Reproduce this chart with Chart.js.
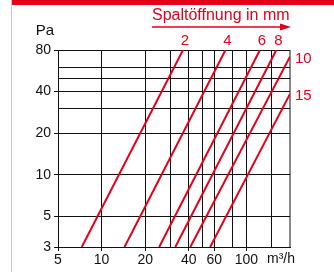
<!DOCTYPE html>
<html>
<head>
<meta charset="utf-8">
<script src="https://cdn.jsdelivr.net/npm/chart.js@4"></script>
<style>
  html, body { margin: 0; padding: 0; background: #fff; }
  canvas { display: block; }
</style>
</head>
<body>
<canvas id="chart" width="334" height="272"></canvas>
<script>
// gap width (mm) per curve, flow (m³/h) and pressure (Pa) at both ends
const gaps = ['2', '4', '6', '8', '10', '15'];
const flowStart = [7.3, 14.4, 25, 32.3, 41, 56.2];
const paStart = [3, 3, 3, 3, 3, 3];
const flowEnd = [36.5, 71.7, 124, 161, 200, 200];
const paEnd = [80, 80, 80, 80, 71.6, 38.5];

// grid values and which of them carry a label
const xGrid = [5, 10, 20, 30, 40, 50, 60, 80, 100, 150, 200];
const xLabels = [5, 10, 20, 40, 60, 100];
const yGrid = [3, 5, 10, 20, 30, 40, 50, 60, 80];
const yLabels = [3, 5, 10, 20, 40, 80];

const RED = '#e2001a';
const FONT = '"Liberation Sans", Arial, sans-serif';

const datasets = gaps.map((g, i) => ({
    label: g + ' mm',
    data: [{ x: flowStart[i], y: paStart[i] }, { x: flowEnd[i], y: paEnd[i] }],
    borderColor: RED,
    borderWidth: 2,
    pointRadius: 0,
    showLine: true,
    fill: false
}));

const annotate = {
    id: 'annotate',
    beforeDraw(chart) {
        const ctx = chart.ctx;
        ctx.save();
        ctx.fillStyle = '#fff';
        ctx.fillRect(0, 0, chart.width, chart.height);
        // red header strip and frame line
        ctx.fillStyle = RED;
        ctx.fillRect(11, 0, chart.width - 11, 5);
        ctx.fillStyle = '#c8c8c8';
        ctx.fillRect(11, 0, 1, chart.height);
        ctx.restore();
    },
    afterDatasetsDraw(chart) {
        const { ctx, chartArea, scales } = chart;
        const x = scales.x, y = scales.y;
        ctx.save();
        ctx.textBaseline = 'middle';

        // axis units
        ctx.fillStyle = '#111';
        ctx.font = '15px ' + FONT;
        ctx.textAlign = 'center';
        ctx.fillText('Pa', 45, 31);
        ctx.font = '14px ' + FONT;
        ctx.textAlign = 'left';
        ctx.fillText('m³/h', 267, 259);

        // legend heading with arrow
        ctx.fillStyle = RED;
        ctx.font = '16px ' + FONT;
        ctx.textAlign = 'left';
        ctx.fillText('Spaltöffnung in mm', 152, 16);
        ctx.strokeStyle = RED;
        ctx.lineWidth = 1.5;
        ctx.beginPath();
        ctx.moveTo(152, 27);
        ctx.lineTo(282, 27);
        ctx.stroke();
        ctx.beginPath();
        ctx.moveTo(291, 27);
        ctx.lineTo(280, 23.5);
        ctx.lineTo(280, 30.5);
        ctx.closePath();
        ctx.fill();

        // curve labels
        ctx.font = '15px ' + FONT;
        gaps.forEach((g, i) => {
            if (flowEnd[i] < x.max) {
                ctx.textAlign = 'center';
                ctx.fillText(g, x.getPixelForValue(flowEnd[i]) + 2, chartArea.top - 9.5);
            } else {
                ctx.textAlign = 'left';
                ctx.fillText(g, chartArea.right + 5, y.getPixelForValue(paEnd[i]) + 2);
            }
        });
        ctx.restore();
    }
};

new Chart(document.getElementById('chart'), {
    type: 'scatter',
    data: { datasets: datasets },
    plugins: [annotate],
    options: {
        responsive: false,
        animation: false,
        devicePixelRatio: 1,
        layout: { padding: { left: 0, top: 50, right: 44, bottom: 0 } },
        plugins: { legend: { display: false }, tooltip: { enabled: false } },
        scales: {
            x: {
                type: 'logarithmic',
                min: 5,
                max: 200,
                afterBuildTicks: s => { s.ticks = xGrid.map(v => ({ value: v })); },
                afterFit: s => { s.height = 25; },
                border: { color: '#111', width: 1 },
                grid: {
                    color: c => (c.tick && c.tick.value === 200) ? '#888' : '#111',
                    lineWidth: c => (c.tick && c.tick.value === 200) ? 2 : 1,
                    tickLength: 4,
                    tickColor: c => (c.tick && xLabels.includes(c.tick.value)) ? '#111' : 'rgba(0,0,0,0)'
                },
                ticks: {
                    autoSkip: false,
                    maxRotation: 0,
                    padding: 1,
                    color: '#111',
                    font: { family: FONT, size: 14 },
                    callback: v => xLabels.includes(v) ? String(v) : ''
                }
            },
            y: {
                type: 'logarithmic',
                min: 3,
                max: 80,
                afterBuildTicks: s => { s.ticks = yGrid.map(v => ({ value: v })); },
                afterFit: s => { s.width = 58; },
                border: { color: '#111', width: 1 },
                grid: {
                    color: '#111',
                    lineWidth: 1,
                    tickLength: 4,
                    tickColor: c => (c.tick && yLabels.includes(c.tick.value)) ? '#111' : 'rgba(0,0,0,0)'
                },
                ticks: {
                    autoSkip: false,
                    padding: 3,
                    color: '#111',
                    font: { family: FONT, size: 14 },
                    callback: v => yLabels.includes(v) ? String(v) : ''
                }
            }
        }
    }
});
</script>
</body>
</html>
